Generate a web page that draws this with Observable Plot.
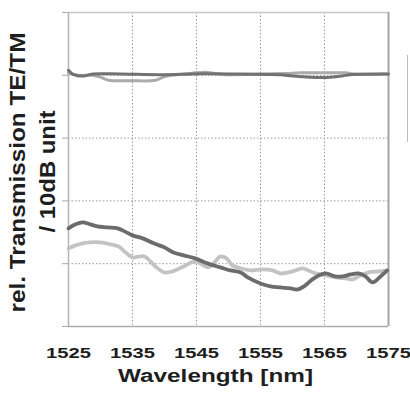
<!DOCTYPE html>
<html>
<head>
<meta charset="utf-8">
<script src="https://cdn.jsdelivr.net/npm/d3@7"></script>
<script src="https://cdn.jsdelivr.net/npm/@observablehq/plot@0.6"></script>
<style>
  html, body { margin: 0; padding: 0; background: #fff; }
  #wrap { position: relative; width: 410px; height: 397px; }
  #legendEdge { position: absolute; left: 407px; top: 55px; height: 87px; border-left: 1.5px solid #bbb; }
</style>
</head>
<body>
<div id="wrap"><div id="chart"></div><div id="legendEdge"></div></div>
<script>
// Tick values
const xTicks = [1525, 1535, 1545, 1555, 1565, 1575];
const yTicks = [0, 1, 2, 3, 4, 5];
const xLabel = "Wavelength [nm]";
const yLabel1 = "rel. Transmission TE/TM";
const yLabel2 = "/ 10dB unit";

// Upper pair (dark and light), [wavelength nm, relative transmission in 10 dB units]
const upperDark = [
  [1525, 4.08], [1525.6, 4.02], [1526.6, 3.99], [1527.5, 3.99], [1528.75, 4.02],
  [1533.1, 4.02], [1539.4, 4.01], [1545.6, 4.025], [1551.9, 4.02], [1558.1, 4.01],
  [1560, 3.99], [1562.8, 3.97], [1566, 3.97], [1567.8, 3.99], [1569, 4.01], [1575, 4.02]
];
const upperLight = [
  [1525, 4.035], [1526.9, 4.0], [1528.75, 4.0], [1530, 3.97], [1531.25, 3.92],
  [1534.7, 3.915], [1538.6, 3.92], [1539.8, 3.97], [1541, 4.0], [1543.3, 4.02],
  [1544.8, 4.04], [1546.4, 4.05], [1547.9, 4.03], [1549.5, 4.01], [1555, 4.02],
  [1558.9, 4.03], [1561.25, 4.04], [1566, 4.04], [1568.3, 4.04], [1569.8, 4.02], [1575, 4.02]
];

// Lower pair
const lowerDark = [
  [1525, 1.563], [1526.1, 1.627], [1527.2, 1.659], [1528.4, 1.627], [1529.5, 1.595],
  [1531.1, 1.579], [1532.7, 1.563], [1533.75, 1.515], [1535, 1.451], [1536.6, 1.403],
  [1538.3, 1.324], [1540, 1.26], [1541.4, 1.18], [1543, 1.132], [1544.8, 1.085],
  [1546.7, 1.005], [1548.75, 0.941], [1550.3, 0.893], [1551.9, 0.861], [1553, 0.781],
  [1555, 0.686], [1556.6, 0.638], [1558.1, 0.622], [1559.7, 0.606], [1560.8, 0.59],
  [1562, 0.654], [1563.1, 0.75], [1564.1, 0.813], [1565.2, 0.845], [1566.7, 0.797],
  [1567.8, 0.797], [1569.1, 0.829], [1570.3, 0.845], [1571.4, 0.797], [1572.5, 0.702],
  [1573.75, 0.797], [1574.8, 0.893]
];
const lowerLight = [
  [1525, 1.244], [1526.1, 1.292], [1527.2, 1.324], [1528.4, 1.34], [1530, 1.34],
  [1531.6, 1.308], [1532.8, 1.276], [1533.75, 1.196], [1535, 1.1], [1536.1, 1.116],
  [1536.9, 1.116], [1537.8, 1.037], [1538.75, 0.941], [1540, 0.861], [1541.25, 0.877],
  [1543, 0.957], [1544.8, 1.037], [1546.1, 0.973], [1546.9, 0.941], [1547.8, 1.021],
  [1548.75, 1.116], [1549.7, 1.085], [1550.6, 0.973], [1551.9, 0.925], [1553.4, 0.893],
  [1555.3, 0.909], [1556.9, 0.893], [1558.1, 0.845], [1559.4, 0.861], [1560.5, 0.893],
  [1561.6, 0.925], [1562.5, 0.893], [1563.6, 0.845], [1565.2, 0.813], [1566.7, 0.781],
  [1568.3, 0.766], [1569.4, 0.75], [1570.6, 0.813], [1571.9, 0.861], [1573.4, 0.877],
  [1574.8, 0.893]
];

const line = (data, stroke, w) => Plot.line(data, {
  x: d => d[0], y: d => d[1], stroke, strokeWidth: w, curve: "catmull-rom",
  strokeLinejoin: "round", strokeLinecap: "round"
});

const svg = Plot.plot({
  width: 410,
  height: 397,
  marginLeft: 68,
  marginRight: 22,
  marginTop: 12,
  marginBottom: 71,
  style: { fontFamily: "'Liberation Sans', Arial, sans-serif", background: "#fff", overflow: "visible" },
  x: { domain: [1525, 1575] },
  y: { domain: [0, 5] },
  marks: [
    Plot.gridX(xTicks.slice(1, -1), { stroke: "#9a9a9a", strokeOpacity: 1, strokeDasharray: "1.5,2" }),
    Plot.gridY(yTicks.slice(1, -1), { stroke: "#9a9a9a", strokeOpacity: 1, strokeDasharray: "1.5,2" }),
    Plot.ruleY([yTicks[5]], { stroke: "#c8c8c8", strokeWidth: 1.5 }),
    Plot.ruleY([yTicks[0]], { stroke: "#aaa", strokeWidth: 1.5 }),
    Plot.ruleX([xTicks[0]], { stroke: "#b5b5b5", strokeWidth: 1.5 }),
    Plot.ruleX([xTicks[5]], { stroke: "#a5a5a5", strokeWidth: 2 }),
    Plot.axisY({ ticks: yTicks, tickSize: 6, tickFormat: () => "", stroke: "#aaa", label: null }),
    Plot.axisX({ ticks: xTicks, tickSize: 0, tickPadding: 22, fontSize: 14, fontWeight: "bold",
      fill: "#1e1e1e", tickFormat: d => String(d), label: null }),
    line(upperLight, "#ababab", 3),
    line(upperDark, "#727272", 3),
    line(lowerLight, "#c3c3c3", 3.8),
    line(lowerDark, "#6c6c6c", 3.8),
    Plot.text([xLabel], { frameAnchor: "bottom", dx: -13, dy: 55.5, fontSize: 18, fontWeight: "bold",
      fill: "#1e1e1e", ariaDescription: "xlabel" }),
    Plot.text([yLabel1], { frameAnchor: "left", rotate: -90, dx: -50.5, dy: 143, fontSize: 22, fontWeight: "bold",
      fill: "#1e1e1e", textAnchor: "start", ariaDescription: "ylabel1" }),
    Plot.text([yLabel2], { frameAnchor: "left", rotate: -90, dx: -20.5, dy: 63, fontSize: 22, fontWeight: "bold",
      fill: "#1e1e1e", textAnchor: "start", ariaDescription: "ylabel2" })
  ]
});

const s = d3.select(svg);
s.selectAll('g[aria-label="x-axis tick label"] text')
  .attr("textLength", 45).attr("lengthAdjust", "spacingAndGlyphs");
s.selectAll('g[aria-description="xlabel"] text')
  .attr("textLength", 195).attr("lengthAdjust", "spacingAndGlyphs");
s.selectAll('g[aria-description="ylabel1"] text')
  .attr("text-anchor", "start").attr("textLength", 280).attr("lengthAdjust", "spacingAndGlyphs");
s.selectAll('g[aria-description="ylabel2"] text')
  .attr("text-anchor", "start").attr("textLength", 122).attr("lengthAdjust", "spacingAndGlyphs");

document.getElementById("chart").appendChild(svg);
</script>
</body>
</html>
